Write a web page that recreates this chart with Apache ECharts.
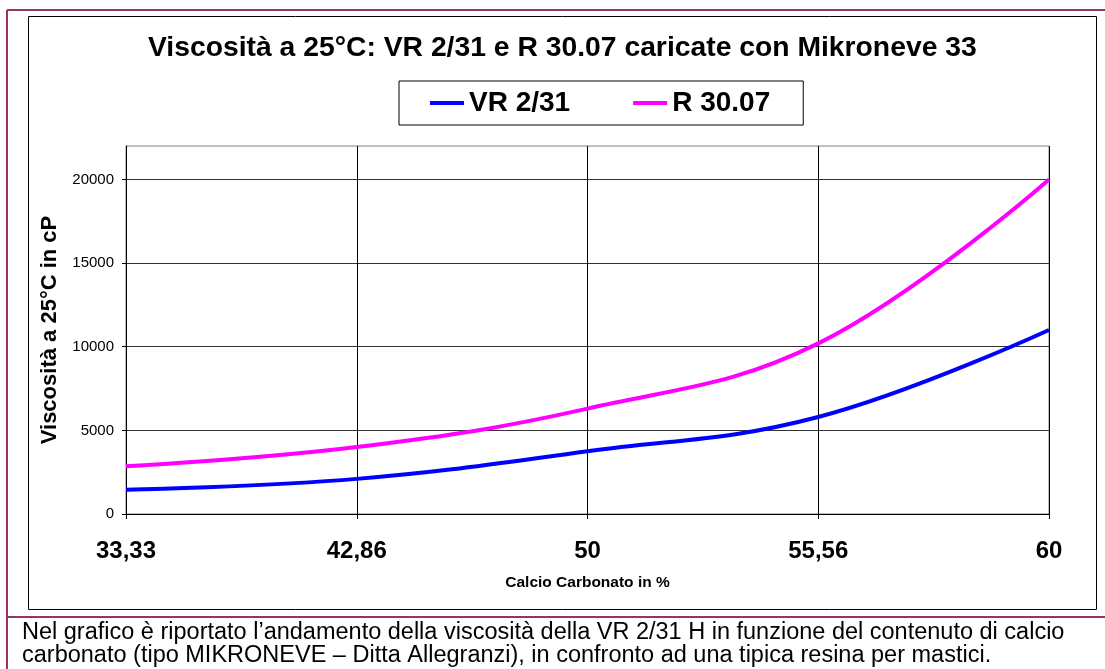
<!DOCTYPE html>
<html>
<head>
<meta charset="utf-8">
<script src="https://cdn.jsdelivr.net/npm/echarts@6/dist/echarts.min.js"></script>
<style>
html,body{margin:0;padding:0;background:#fff;}
#chart{width:1105px;height:669px;}
</style>
</head>
<body>
<div id="chart"></div>
<script>
const categories = ['33,33', '42,86', '50', '55,56', '60'];
const vr231 = [1450, 2100, 3750, 5800, 11000];
const r3007 = [2850, 4000, 6300, 10200, 20000];
const yTicks = [0, 5000, 10000, 15000, 20000];
const seriesNames = ['VR 2/31', 'R 30.07'];
const titleText = 'Viscosità a 25°C: VR 2/31 e R 30.07 caricate con Mikroneve 33';
const xName = 'Calcio Carbonato in %';
const yName = 'Viscosità a 25°C in cP';
const captionLines = [
  'Nel grafico è riportato l’andamento della viscosità della VR 2/31 H in funzione del contenuto di calcio',
  'carbonato (tipo MIKRONEVE – Ditta Allegranzi), in confronto ad una tipica resina per mastici.'
];

const FONT = 'Arial, "Liberation Sans", sans-serif';
const chart = echarts.init(document.getElementById('chart'), null, {renderer: 'canvas'});
const option = {
  backgroundColor: '#fff',
  animation: false,
  textStyle: {fontFamily: FONT},
  title: {
    text: titleText,
    left: 143,
    top: 29,
    textStyle: {fontFamily: FONT, fontSize: 28.3, fontWeight: 'bold', color: '#000'}
  },
  legend: {
    left: 399,
    top: 81,
    padding: [7, 33, 7, 31],
    borderColor: '#000',
    borderWidth: 1,
    itemGap: 63,
    itemWidth: 34,
    itemHeight: 4,
    icon: 'rect',
    data: seriesNames,
    textStyle: {fontFamily: FONT, fontSize: 28, fontWeight: 'bold', color: '#000', lineHeight: 30}
  },
  grid: {
    left: 126, right: 56, top: 146, bottom: 155,
    show: true, borderColor: '#808080', borderWidth: 1, backgroundColor: 'transparent'
  },
  xAxis: {
    type: 'category',
    data: categories,
    boundaryGap: false,
    name: xName,
    nameLocation: 'middle',
    nameGap: 61,
    nameTextStyle: {fontFamily: FONT, fontSize: 15.5, fontWeight: 'bold', color: '#000'},
    axisLine: {lineStyle: {color: '#000', width: 1}},
    axisTick: {show: true, length: 5, lineStyle: {color: '#000'}},
    axisLabel: {fontFamily: FONT, fontSize: 24, fontWeight: 'bold', color: '#000', margin: 25},
    splitLine: {show: true, lineStyle: {color: '#000', width: 1}}
  },
  yAxis: {
    type: 'value',
    min: 0,
    max: 22000,
    interval: 5000,
    name: yName,
    nameLocation: 'middle',
    nameGap: 64,
    nameRotate: 90,
    nameTextStyle: {fontFamily: FONT, fontSize: 22, fontWeight: 'bold', color: '#000'},
    axisLine: {show: true, lineStyle: {color: '#000', width: 1}},
    axisTick: {show: true, length: 4, lineStyle: {color: '#000'}, customValues: yTicks},
    axisLabel: {fontFamily: FONT, fontSize: 15, color: '#000', margin: 12, customValues: yTicks,
                formatter: function (v) { return String(v); }},
    splitLine: {show: true, lineStyle: {color: '#333', width: 1}}
  },
  series: [
    {name: seriesNames[0], type: 'line', data: vr231, smooth: 0.4, symbol: 'none',
     lineStyle: {color: '#0000ff', width: 4}, itemStyle: {color: '#0000ff'}},
    {name: seriesNames[1], type: 'line', data: r3007, smooth: 0.4, symbol: 'none',
     lineStyle: {color: '#ff00ff', width: 4}, itemStyle: {color: '#ff00ff'}}
  ],
  graphic: [
    {type: 'line', silent: true, shape: {x1: 7, y1: 10, x2: 1105, y2: 10}, style: {stroke: '#993366', lineWidth: 2}},
    {type: 'line', silent: true, shape: {x1: 7, y1: 10, x2: 7, y2: 669}, style: {stroke: '#993366', lineWidth: 2}},
    {type: 'line', silent: true, shape: {x1: 7, y1: 617, x2: 1105, y2: 617}, style: {stroke: '#993366', lineWidth: 2}},
    {type: 'rect', silent: true, shape: {x: 28.5, y: 16.5, width: 1068, height: 593}, style: {fill: null, stroke: '#000', lineWidth: 1}},
    {type: 'text', silent: true, left: 22, top: 621, style: {text: captionLines[0], font: '23.5px ' + FONT, fill: '#000'}},
    {type: 'text', silent: true, left: 22, top: 644, style: {text: captionLines[1], font: '23.5px ' + FONT, fill: '#000'}}
  ]
};
chart.setOption(option);
</script>
</body>
</html>
